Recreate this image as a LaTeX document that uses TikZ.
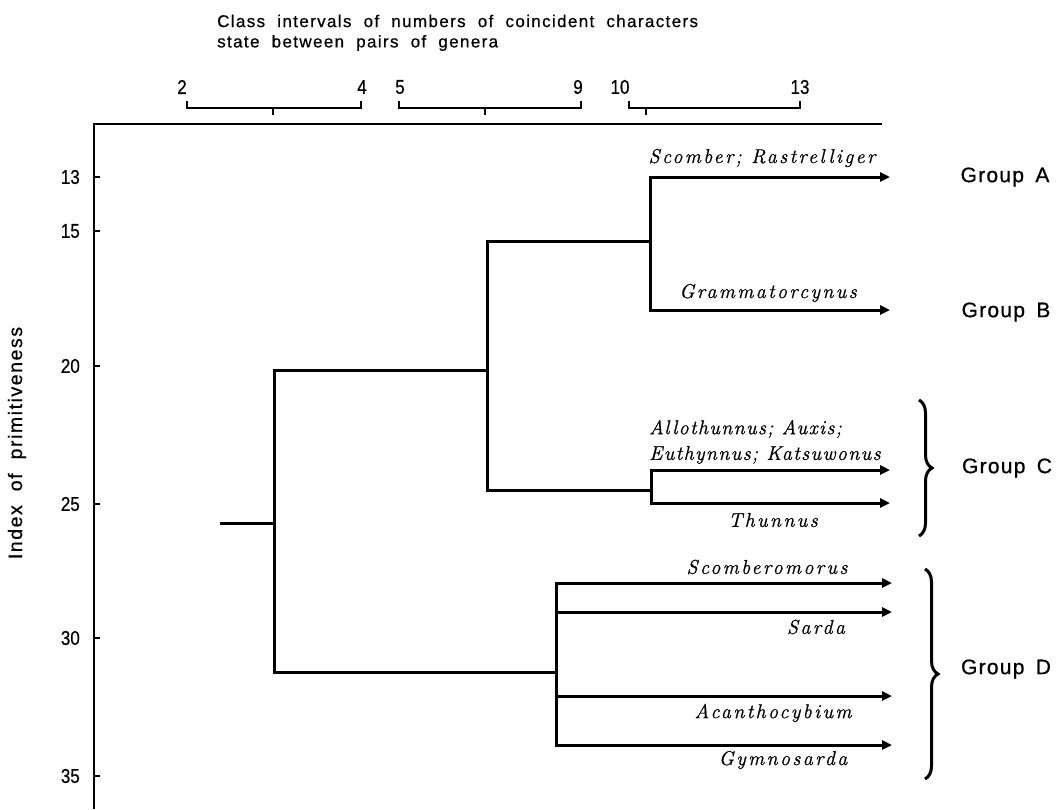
\documentclass[tikz,border=0pt]{standalone}
\usepackage{fontspec}
\setsansfont{Liberation Sans}
\usetikzlibrary{arrows.meta,decorations.pathreplacing}
\newfontfamily\titlefont[LetterSpace=8,WordSpace=2,FakeBold=0.6]{Liberation Sans}
\newfontfamily\grpfont[LetterSpace=6,WordSpace=1.6,FakeBold=0.8]{Liberation Sans}
\newfontfamily\ylabfont[LetterSpace=8,WordSpace=2,FakeBold=0.6]{Liberation Sans}
\newfontfamily\numfont[FakeStretch=0.85,FakeBold=0.6]{Liberation Sans}
\newfontfamily\taxfont[LetterSpace=12,FakeBold=0.8]{Latin Modern Roman}
\newfontfamily\taxfontC[LetterSpace=7]{Latin Modern Roman}
\begin{document}
\begin{tikzpicture}[x=1pt,y=-1pt,
  ax/.style={line width=2.6pt},
  br/.style={line width=3pt,line cap=rect},
  arr/.style={line width=3pt,-{Triangle[length=10pt,width=9pt]}},
  brk/.style={line width=2.2pt},
  taxon/.style={font=\taxfont\itshape\fontsize{20}{22}\selectfont,inner sep=0pt},
  taxonC/.style={font=\taxfontC\addfontfeature{FakeBold=0.8}\itshape\fontsize{20}{22}\selectfont,inner sep=0pt,anchor=west},
  grp/.style={font=\grpfont\fontsize{21}{23}\selectfont,inner sep=0pt},
  num/.style={font=\numfont\fontsize{20}{22}\selectfont,inner sep=0pt},
  ttl/.style={font=\titlefont\fontsize{17}{19}\selectfont,inner sep=0pt,anchor=west},
  brc/.style={decorate,decoration={brace,amplitude=13pt},line width=3pt}]
\useasboundingbox (0,0) rectangle (1062,809);

% title
\node[ttl] (t1) at (217,21) {Class intervals of numbers of coincident characters};
\node[ttl] (t2) at (217,43) {state between pairs of genera};

% axes
\coordinate (o) at (94,124);
\coordinate (xe) at (882,124);
\coordinate (ye) at (94,809);
\draw[ax] (xe) -- (o) -- (ye);

% y label
\node[font=\ylabfont\fontsize{19.5}{21}\selectfont,rotate=90,inner sep=0pt] (yl) at (17,443) {Index of primitiveness};

% y ticks
\foreach \v/\yy in {13/177,15/231,20/366,25/504,30/638,35/776}{
  \draw[ax] (94,\yy) -- (100,\yy);
  \node[num,anchor=east] (y\v) at (80,\yy) {\v};
}

% top brackets
\foreach \a/\b/\m/\n in {187/361/273/1,399/581/485/2,629/800/646/3}{
  \draw[brk] (\a,101) -- (\a,108) -- (\b,108) -- (\b,101);
  \draw[brk] (\m,108) -- (\m,115);
}
\node[num] (n2) at (182,87) {2};
\node[num] (n4) at (362,87) {4};
\node[num] (n5) at (400,87) {5};
\node[num] (n9) at (578,87) {9};
\node[num] (n10) at (620,87) {10};
\node[num] (n13) at (800,87) {13};

% dendrogram junctions
\coordinate (s) at (221,523);
\coordinate (r) at (274,523);
\coordinate (p) at (487,370);
\coordinate (q) at (556,672);
\coordinate (ab) at (650,241);
\coordinate (c) at (651,490);
% tips
\coordinate (tA) at (890,177);
\coordinate (tB) at (890,310);
\coordinate (tC1) at (890,470);
\coordinate (tC2) at (890,503);
\coordinate (tD1) at (892,583);
\coordinate (tD2) at (892,612);
\coordinate (tD3) at (892,696);
\coordinate (tD4) at (892,745);

\draw[br] (s) -- (r);
\draw[br] (r |- p) -- (r |- q);
\draw[br] (r |- p) -- (p);
\draw[br] (r |- q) -- (q);
\draw[br] (p |- ab) -- (p |- c);
\draw[br] (p |- ab) -- (ab);
\draw[br] (p |- c) -- (c);
\draw[br] (ab |- tA) -- (ab |- tB);
\draw[arr] (ab |- tA) -- (tA);
\draw[arr] (ab |- tB) -- (tB);
\draw[br] (c |- tC1) -- (c |- tC2);
\draw[arr] (c |- tC1) -- (tC1);
\draw[arr] (c |- tC2) -- (tC2);
\draw[br] (q |- tD1) -- (q |- tD4);
\draw[arr] (q |- tD1) -- (tD1);
\draw[arr] (q |- tD2) -- (tD2);
\draw[arr] (q |- tD3) -- (tD3);
\draw[arr] (q |- tD4) -- (tD4);

% taxon labels
\node[taxon] (lA) at (762,158) {Scomber; Rastrelliger};
\node[taxon] (lB) at (768,293) {Grammatorcynus};
\node[taxonC] (lC1) at (649,429) {Allothunnus; Auxis;};
\node[taxonC] (lC2) at (649,455) {Euthynnus; Katsuwonus};
\node[taxon] (lC3) at (773,520) {Thunnus};
\node[taxon] (lD1) at (767,567) {Scomberomorus};
\node[taxon] (lD2) at (816,627) {Sarda};
\node[taxon] (lD3) at (773,713) {Acanthocybium};
\node[taxon] (lD4) at (783,760) {Gymnosarda};

% braces
\coordinate (bC1) at (919,400);
\coordinate (bC2) at (919,536);
\coordinate (bD1) at (925,569);
\coordinate (bD2) at (925,779);
\draw[brc] (bC1) -- (bC2);
\draw[brc] (bD1) -- (bD2);

% groups
\node[grp] (gA) at (1005,177) {Group A};
\node[grp] (gB) at (1006,312) {Group B};
\node[grp] (gC) at (1007,468) {Group C};
\node[grp] (gD) at (1006,669) {Group D};
\end{tikzpicture}
\end{document}
